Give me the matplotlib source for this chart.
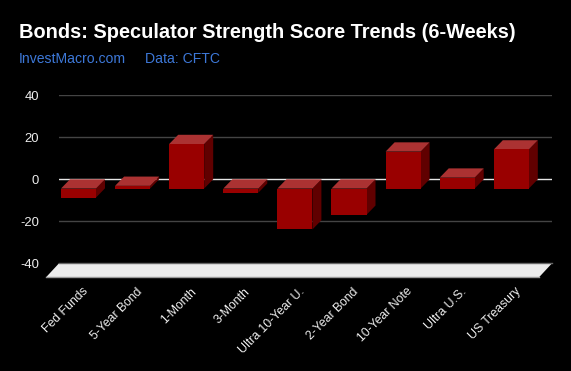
import matplotlib
matplotlib.use("Agg")
import matplotlib.pyplot as plt
from matplotlib.patches import Polygon
from matplotlib.transforms import ScaledTranslation

plt.rcParams["font.family"] = ["Liberation Sans", "DejaVu Sans"]

categories = ["Fed Funds", "5-Year Bond", "1-Month", "3-Month", "Ultra 10-Year U.",
              "2-Year Bond", "10-Year Note", "Ultra U.S.", "US Treasury"]
scores = [-4.3, 1.3, 21.2, -2.0, -19.5, -12.5, 17.6, 5.2, 18.6]
yticks = [-40, -20, 0, 20, 40]

W, H = 571, 371
fig = plt.figure(figsize=(W / 100, H / 100), dpi=100, facecolor="black")
# plot area in pixels: x 59-552, y 95.3-263.3
ax = fig.add_axes([59 / W, 1 - 263.3 / H, 493 / W, 168 / H], facecolor="black")
ax.set_xlim(-0.36, 8.752)
ax.set_ylim(-40, 40)
for s in ax.spines.values():
    s.set_visible(False)

# gridlines, the zero one is lighter
for t in yticks:
    if t == 0:
        ax.axhline(t, color="#e6e6e6", lw=1, zorder=1)
    elif t != -40:
        ax.axhline(t, color="#444444", lw=1, zorder=1)

# floor of the 3d box
floor_dx = 13 / 54.1
floor_dy = 14 / 2.1
x0, x1 = ax.get_xlim()
floor = Polygon([(x0, -40), (x1, -40), (x1 - floor_dx, -40 - floor_dy), (x0 - floor_dx, -40 - floor_dy)],
                closed=True, facecolor="#ececec", edgecolor="none", clip_on=False, zorder=2)
ax.add_patch(floor)
ax.plot([x0, x1], [-40, -40], color="#666666", lw=1, clip_on=False, zorder=3)
ax.plot([x0 - floor_dx, x1 - floor_dx], [-40 - floor_dy, -40 - floor_dy], color="#999999", lw=1,
        clip_on=False, zorder=3)

# bars, front face plus top and side faces shifted by the depth
bw = 35 / 54.1
dx = 9 / 54.1
dy = 4.4
for i, v in enumerate(scores):
    l, r = i - bw / 2, i + bw / 2
    lo = min(v, 0) - dy
    hi = max(v, 0) - dy
    ax.add_patch(Polygon([(r, lo), (r + dx, lo + dy), (r + dx, hi + dy), (r, hi)], facecolor="#600000",
                         edgecolor="none", zorder=4))
    ax.add_patch(Polygon([(l, hi), (r, hi), (r + dx, hi + dy), (l + dx, hi + dy)], facecolor="#ab3232",
                         edgecolor="none", zorder=4))
    ax.add_patch(Polygon([(l, lo), (r, lo), (r, hi), (l, hi)], facecolor="#990000",
                         edgecolor="none", zorder=5))

ax.set_yticks(yticks)
ax.set_yticklabels([str(t) for t in yticks], fontsize=9.4, color="#eeeeee")
ax.tick_params(axis="y", length=0, pad=14.4)
ax.set_xticks(range(len(categories)))
ax.set_xticklabels(categories, fontsize=8.8, color="#eeeeee", rotation=45, ha="right",
                   rotation_mode="anchor")
ax.tick_params(axis="x", length=0, pad=16)
shift = ScaledTranslation(3.5 / 100, 0, fig.dpi_scale_trans)
for lab in ax.get_xticklabels():
    lab.set_transform(lab.get_transform() + shift)

fig.text(19 / W, 1 - 38 / H, "Bonds: Speculator Strength Score Trends (6-Weeks)", color="white",
         fontsize=14.4, fontweight="bold", ha="left", va="baseline")
fig.text(19 / W, 1 - 63 / H, "InvestMacro.com", color="#3d78d8", fontsize=10.1, ha="left", va="baseline")
fig.text(145 / W, 1 - 63 / H, "Data: CFTC", color="#3d78d8", fontsize=10.1, ha="left", va="baseline")

fig.savefig("out.png", dpi=100, facecolor="black")
